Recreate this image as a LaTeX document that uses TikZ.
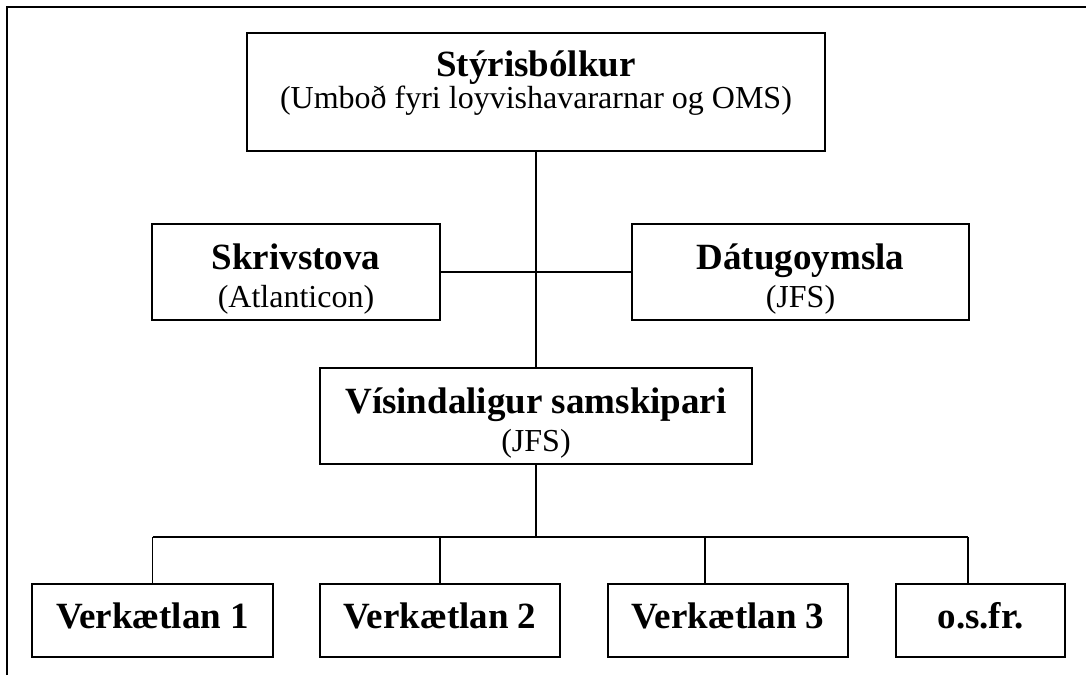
\documentclass[tikz,border=0pt]{standalone}
\usepackage{fontspec}
\setmainfont{Liberation Serif}

\tikzset{
  box/.style={draw, line width=1.7pt, inner sep=0pt, align=center, anchor=north,
    font=\fontsize{32}{38}\selectfont},
  twoline/.style={box, text height=84pt, text depth=12pt},
  oneline/.style={box, text height=45pt, text depth=28pt, font=\fontsize{37}{38}\selectfont\bfseries},
  link/.style={line width=1.3pt}
}
\newcommand{\hd}[1]{{\fontsize{37}{38}\selectfont\bfseries #1}}

\begin{document}
\begin{tikzpicture}[x=1pt,y=-1pt]
    \useasboundingbox (0,0) rectangle (1086,675);
    % frame, only top and left edges
    \draw [line width=1.9pt] (7,675) -- (7,7) -- (1086,7);
    % boxes
    \node [box, minimum width=578pt, font=\fontsize{32}{32}\selectfont, text height=76pt, text depth=42pt]
        (styri) at (536,32) {\hd{Stýrisbólkur}\\(Umboð fyri loyvishavararnar og OMS)};
    \node [twoline, minimum width=288pt] (skriv) at (296,223) {\hd{Skrivstova}\\(Atlanticon)};
    \node [twoline, minimum width=337pt] (datu) at (800.5,223) {\hd{Dátugoymsla}\\(JFS)};
    \node [twoline, minimum width=432pt] (visi) at (536,367) {\hd{Vísindaligur samskipari}\\(JFS)};
    \node [oneline, minimum width=241pt] (v1) at (152.5,583) {Verkætlan 1};
    \node [oneline, minimum width=240pt] (v2) at (440,583) {Verkætlan 2};
    \node [oneline, minimum width=240pt] (v3) at (728,583) {Verkætlan 3};
    \node [oneline, minimum width=169pt] (osfr) at (980.5,583) {o.s.fr.};
    % connectors
    \draw [link] (styri) -- (visi);
    \draw [link] (skriv) -- (datu);
    \coordinate (bus) at (536,537);
    \coordinate (d3) at ([xshift=-23pt]v3.north);
    \coordinate (d4) at ([xshift=-12.5pt]osfr.north);
    \draw [link] (visi) -- (visi |- bus);
    \draw [link] (v1.north |- bus) -- (d4 |- bus);
    \foreach \d in {v1.north, v2.north, d3, d4}
        \draw [link] (\d) -- (\d |- bus);
\end{tikzpicture}
\end{document}
